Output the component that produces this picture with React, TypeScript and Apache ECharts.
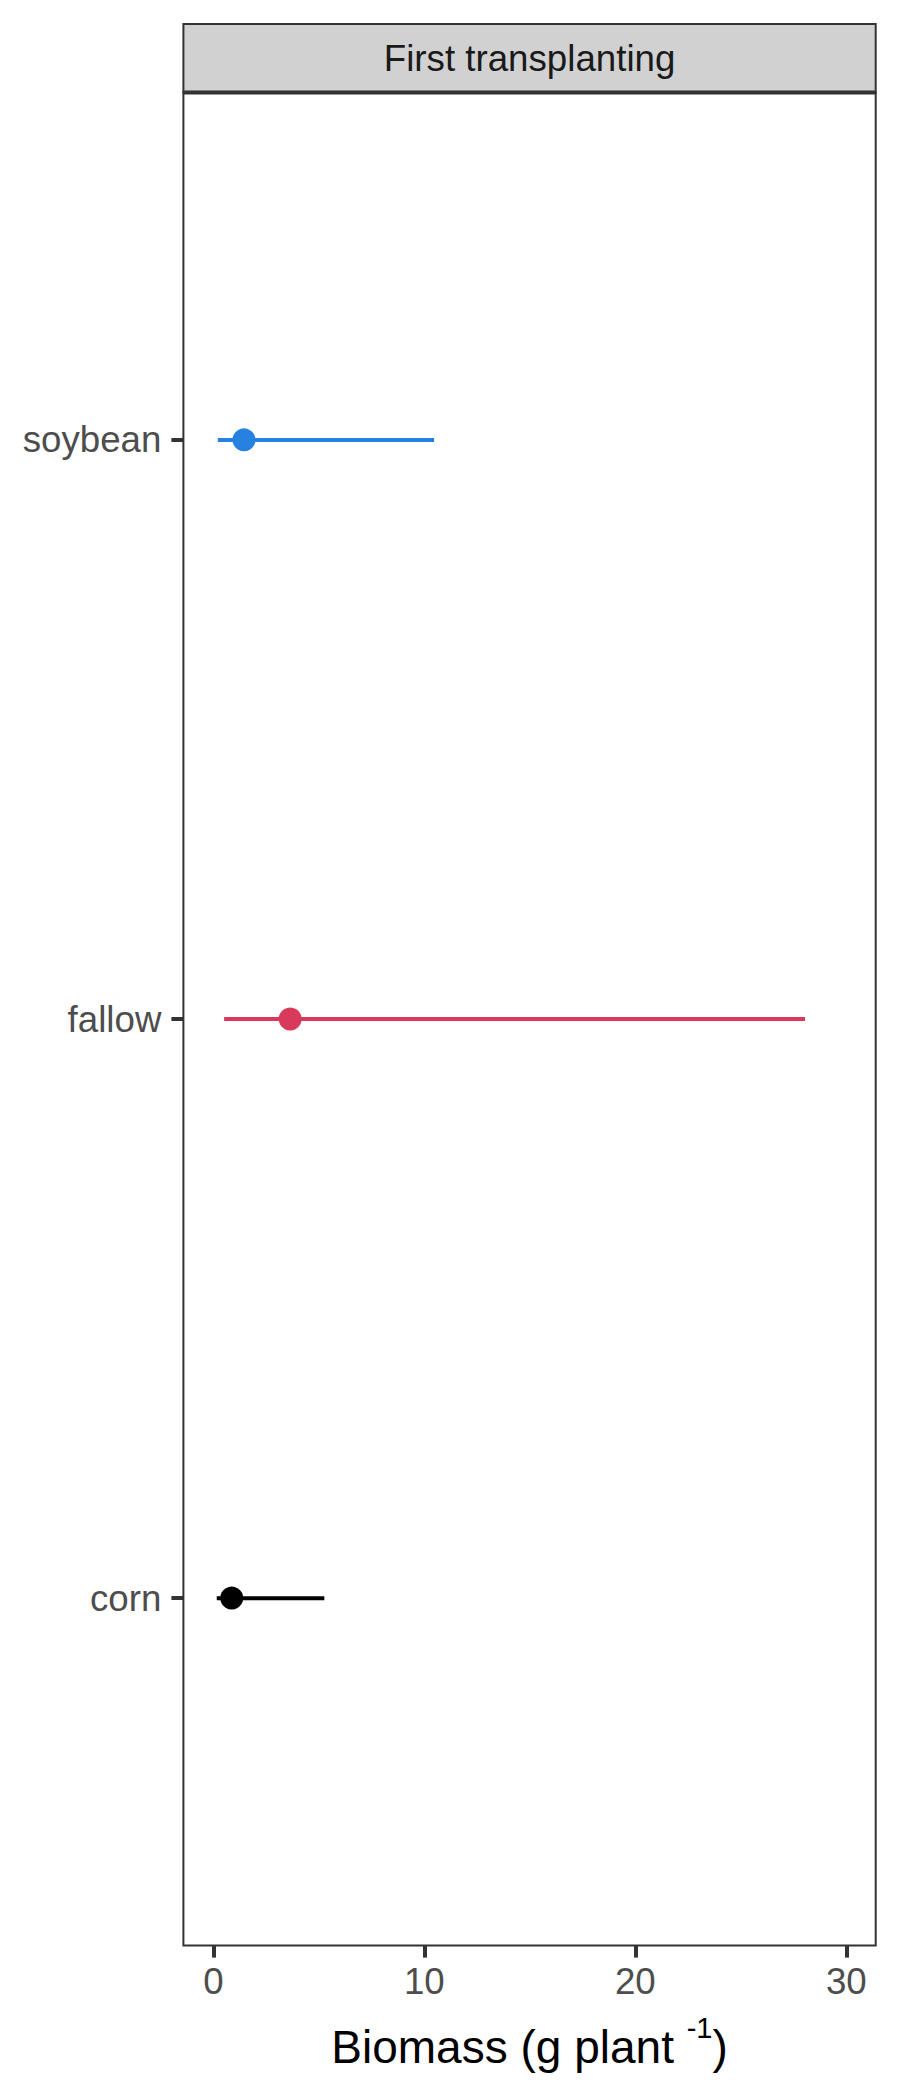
import React, { useEffect, useRef } from "react";
import * as echarts from "echarts";

// Data
const categories = ["corn", "fallow", "soybean"]; // bottom to top
const estimates = [0.87, 3.64, 1.45];
const lowerBounds = [0.16, 0.51, 0.21];
const upperBounds = [5.26, 28.04, 10.46];
const seriesColors = ["#000000", "#D93A5C", "#2681E0"];
const xTicks = [0, 10, 20, 30];
const panelTitle = "First transplanting";

const FONT = "Liberation Sans, Arial, Helvetica, sans-serif";

export default function App() {
  const ref = useRef<HTMLDivElement>(null);

  useEffect(() => {
    if (!ref.current) return;
    const chart = echarts.init(ref.current, undefined, { renderer: "svg" });

    const gridLeft = 183.4;
    const gridRight = 24.3;
    const gridTop = 92.4;
    const gridBottom = 154.4;
    const W = 900;
    const stripTop = 24;

    const series: any[] = [];
    categories.forEach((cat, i) => {
      const y = i + 1;
      series.push({
        type: "line",
        name: cat + " range",
        data: [
          [lowerBounds[i], y],
          [upperBounds[i], y],
        ],
        symbol: "none",
        lineStyle: { color: seriesColors[i], width: 4, opacity: 1 },
        z: 2,
        silent: true,
      });
      series.push({
        type: "scatter",
        name: cat,
        data: [[estimates[i], y]],
        symbol: "circle",
        symbolSize: 23,
        itemStyle: { color: seriesColors[i], opacity: 1 },
        z: 3,
        silent: true,
      });
    });

    chart.setOption({
      animation: false,
      backgroundColor: "#ffffff",
      textStyle: { fontFamily: FONT },
      grid: {
        left: gridLeft,
        right: gridRight,
        top: gridTop,
        bottom: gridBottom,
        show: true,
        borderColor: "#333333",
        borderWidth: 2,
        backgroundColor: "#ffffff",
        containLabel: false,
      },
      xAxis: {
        type: "value",
        min: -1.42,
        max: 31.39,
        splitLine: { show: false },
        axisLine: { show: false, onZero: false },
        axisTick: {
          show: true,
          customValues: xTicks,
          length: 12,
          lineStyle: { color: "#333333", width: 4 },
        },
        axisLabel: {
          customValues: xTicks,
          fontSize: 36.7,
          lineHeight: 37,
          color: "#4d4d4d",
          margin: 17,
          fontFamily: FONT,
        },
        name: "Biomass (g plant {sup|-1}{main|)}",
        nameLocation: "middle",
        nameGap: 68,
        nameTextStyle: {
          fontSize: 46,
          lineHeight: 67,
          color: "#000000",
          fontFamily: FONT,
          verticalAlign: "top",
          rich: {
            sup: {
              fontSize: 29,
              lineHeight: 29,
              verticalAlign: "top",
              color: "#000000",
              fontFamily: FONT,
            },
            main: {
              fontSize: 46,
              lineHeight: 67,
              color: "#000000",
              fontFamily: FONT,
            },
          },
        },
      },
      yAxis: {
        type: "value",
        min: 0.4,
        max: 3.6,
        splitLine: { show: false },
        axisLine: { show: false, onZero: false },
        axisTick: {
          show: true,
          customValues: [1, 2, 3],
          length: 12,
          lineStyle: { color: "#333333", width: 4 },
        },
        axisLabel: {
          customValues: [1, 2, 3],
          formatter: (v: number) => categories[Math.round(v) - 1] ?? "",
          fontSize: 36.7,
          color: "#4d4d4d",
          margin: 22,
          fontFamily: FONT,
        },
      },
      graphic: [
        {
          type: "rect",
          shape: {
            x: gridLeft,
            y: stripTop,
            width: W - gridRight - gridLeft,
            height: gridTop - stripTop,
          },
          style: { fill: "#d1d1d1", stroke: "#333333", lineWidth: 2 },
          z: 10,
        },
        {
          type: "line",
          shape: {
            x1: gridLeft,
            y1: gridTop,
            x2: W - gridRight,
            y2: gridTop,
          },
          style: { stroke: "#333333", lineWidth: 4 },
          z: 12,
        },
        {
          type: "text",
          x: gridLeft + (W - gridRight - gridLeft) / 2,
          y: stripTop + (gridTop - stripTop) / 2,
          style: {
            text: panelTitle,
            fontSize: 36.7,
            fontFamily: FONT,
            fill: "#1a1a1a",
            textAlign: "center",
            textVerticalAlign: "middle",
          },
          z: 11,
        },
      ],
      series,
    });

    return () => {
      chart.dispose();
    };
  }, []);

  return (
    <div
      ref={ref}
      style={{ position: "absolute", left: 0, top: 0, width: 900, height: 2100 }}
    />
  );
}
